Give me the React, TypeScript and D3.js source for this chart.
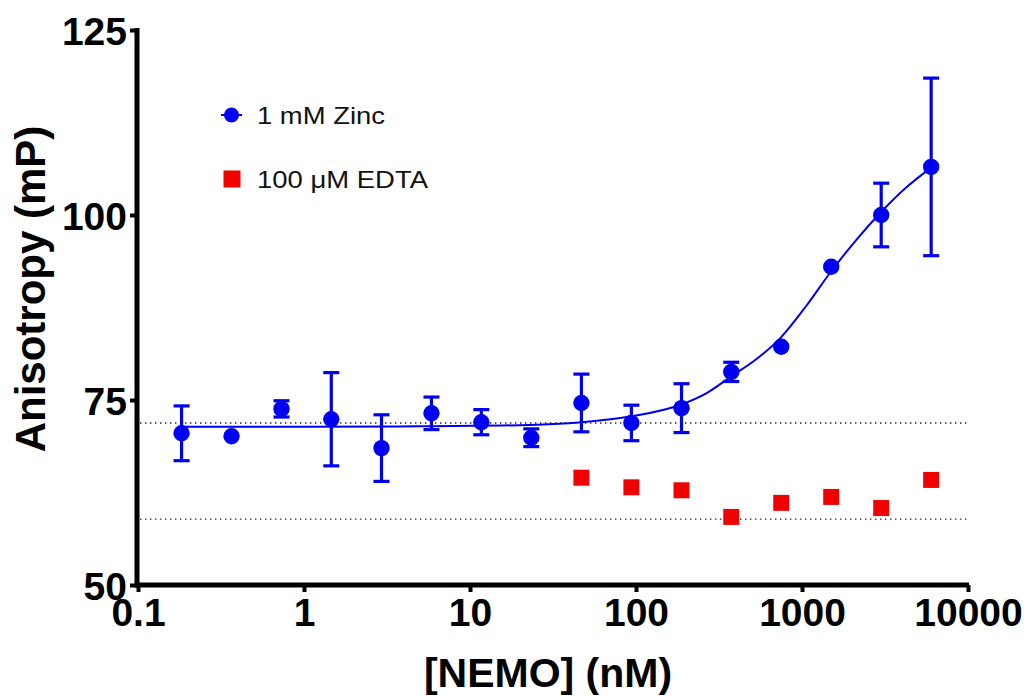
import React, { useEffect, useRef } from "react";
import * as d3 from "d3";

const zincConc = [0.183, 0.366, 0.732, 1.46, 2.93, 5.86, 11.7, 23.4, 46.9, 93.8, 188, 375, 750, 1500, 3000, 6000];
const zincMean = [70.5, 70.1, 73.8, 72.4, 68.5, 73.2, 72.0, 69.9, 74.6, 71.9, 73.9, 78.8, 82.2, 93.0, 100.0, 106.5];
const zincErr = [3.7, 0, 1.1, 6.3, 4.5, 2.2, 1.7, 1.2, 3.9, 2.4, 3.3, 1.3, 0, 0, 4.3, 12.0];

const edtaConc = [46.9, 93.8, 188, 375, 750, 1500, 3000, 6000];
const edtaMean = [64.5, 63.2, 62.8, 59.2, 61.1, 61.9, 60.4, 64.2];

// fitted curve
const fitConc = [0.183, 1, 5, 20, 47, 94, 188, 265, 375, 530, 750, 1060, 1500, 2120, 3000, 4240, 6000];
const fitVal = [71.4, 71.4, 71.45, 71.6, 72.0, 72.8, 74.4, 75.9, 78.2, 80.5, 83.5, 87.7, 92.4, 96.6, 100.4, 103.7, 106.4];

const refLines = [71.9, 58.9];

const xTicks = [0.1, 1, 10, 100, 1000, 10000];
const xTickLabels = ["0.1", "1", "10", "100", "1000", "10000"];
const yTicks = [50, 75, 100, 125];

const legendLabels = ["1 mM Zinc", "100 \u03bcM EDTA"];
const legendWidths = [128, 171];

const BLUE = "#0000f0";
const RED = "#f00000";
const FONT = "'Liberation Sans', Arial, sans-serif";

export default function App() {
  const ref = useRef<SVGSVGElement>(null);

  useEffect(() => {
    const svg = d3.select(ref.current);
    svg.selectAll("*").remove();

    const x = d3.scaleLog().domain([0.1, 10000]).range([138, 968]);
    const y = d3.scaleLinear().domain([50, 125]).range([585, 30]);

    // reference dotted lines
    svg
      .selectAll("line.ref")
      .data(refLines)
      .enter()
      .append("line")
      .attr("x1", 140)
      .attr("x2", 967)
      .attr("y1", (d) => y(d))
      .attr("y2", (d) => y(d))
      .attr("stroke", "#222")
      .attr("stroke-width", 1.4)
      .attr("stroke-dasharray", "1.4,3.6");

    // axes
    const yAxis = d3
      .axisLeft(y)
      .tickValues(yTicks)
      .tickFormat(d3.format("d"))
      .tickSizeInner(7)
      .tickSizeOuter(0)
      .tickPadding(3);
    const gy = svg.append("g").attr("transform", "translate(137,0)").call(yAxis);
    gy.select(".domain").attr("stroke", "#000").attr("stroke-width", 5).attr("d", `M0,${y(125) - 2}V${y(50) + 2.5}`);
    gy.selectAll(".tick line").attr("stroke", "#000").attr("stroke-width", 4);
    gy.selectAll(".tick text")
      .attr("font-family", FONT)
      .attr("font-weight", "bold")
      .attr("font-size", 39)
      .attr("fill", "#000")
      .attr("dy", "0.36em");

    const xAxis = d3
      .axisBottom(x)
      .tickValues(xTicks)
      .tickFormat((d, i) => xTickLabels[i])
      .tickSizeInner(7)
      .tickSizeOuter(0)
      .tickPadding(4);
    const gx = svg.append("g").attr("transform", "translate(0,585)").call(xAxis);
    gx.select(".domain").attr("stroke", "#000").attr("stroke-width", 5).attr("d", `M135,0H${x(10000) + 1}`);
    gx.selectAll(".tick line").attr("stroke", "#000").attr("stroke-width", 4);
    gx.selectAll(".tick text")
      .attr("font-family", FONT)
      .attr("font-weight", "bold")
      .attr("font-size", 39)
      .attr("fill", "#000")
      .attr("dy", "0.78em");

    // axis titles
    svg
      .append("text")
      .attr("transform", "translate(45,289) rotate(-90)")
      .attr("text-anchor", "middle")
      .attr("font-family", FONT)
      .attr("font-weight", "bold")
      .attr("font-size", 42)
      .text("Anisotropy (mP)");
    svg
      .append("text")
      .attr("x", 548)
      .attr("y", 687)
      .attr("text-anchor", "middle")
      .attr("font-family", FONT)
      .attr("font-weight", "bold")
      .attr("font-size", 41)
      .text("[NEMO] (nM)");

    // fit curve
    const fitData = fitConc.map((c, i) => [c, fitVal[i]] as [number, number]);
    const line = d3
      .line<[number, number]>()
      .x((d) => x(d[0]))
      .y((d) => y(d[1]))
      .curve(d3.curveMonotoneX);
    svg
      .append("path")
      .attr("d", line(fitData))
      .attr("fill", "none")
      .attr("stroke", BLUE)
      .attr("stroke-width", 2);

    // error bars
    const zinc = zincConc.map((c, i) => ({ c, m: zincMean[i], e: zincErr[i] }));
    const eg = svg.append("g").attr("stroke", BLUE).attr("stroke-width", 3.2);
    zinc
      .filter((d) => d.e > 0)
      .forEach((d) => {
        const cx = x(d.c);
        const y1 = y(d.m + d.e);
        const y2 = y(d.m - d.e);
        eg.append("line").attr("x1", cx).attr("x2", cx).attr("y1", y1).attr("y2", y2);
        eg.append("line").attr("x1", cx - 8).attr("x2", cx + 8).attr("y1", y1).attr("y2", y1);
        eg.append("line").attr("x1", cx - 8).attr("x2", cx + 8).attr("y1", y2).attr("y2", y2);
      });

    // blue points
    svg
      .selectAll("circle.zinc")
      .data(zinc)
      .enter()
      .append("circle")
      .attr("cx", (d) => x(d.c))
      .attr("cy", (d) => y(d.m))
      .attr("r", 8.2)
      .attr("fill", BLUE);

    // red squares
    const edta = edtaConc.map((c, i) => ({ c, m: edtaMean[i] }));
    svg
      .selectAll("rect.edta")
      .data(edta)
      .enter()
      .append("rect")
      .attr("x", (d) => x(d.c) - 8)
      .attr("y", (d) => y(d.m) - 8)
      .attr("width", 16)
      .attr("height", 16)
      .attr("fill", RED);

    // legend
    const rows = [115, 179];
    const lg = svg.append("g");
    lg.append("line").attr("x1", 221).attr("x2", 242).attr("y1", rows[0]).attr("y2", rows[0]).attr("stroke", BLUE).attr("stroke-width", 2);
    lg.append("circle").attr("cx", 231.5).attr("cy", rows[0]).attr("r", 7.5).attr("fill", BLUE);
    lg.append("rect").attr("x", 223.5).attr("y", rows[1] - 8.5).attr("width", 17).attr("height", 17).attr("fill", RED);
    legendLabels.forEach((t, i) => {
      lg.append("text")
        .attr("x", 257)
        .attr("y", rows[i])
        .attr("dy", "0.36em")
        .attr("font-family", FONT)
        .attr("font-size", 24)
        .attr("textLength", legendWidths[i])
        .attr("lengthAdjust", "spacingAndGlyphs")
        .attr("fill", "#111")
        .text(t);
    });
  }, []);

  return (
    <svg
      ref={ref}
      width={1029}
      height={696}
      style={{ position: "absolute", left: 0, top: 0, background: "#fff" }}
    />
  );
}
